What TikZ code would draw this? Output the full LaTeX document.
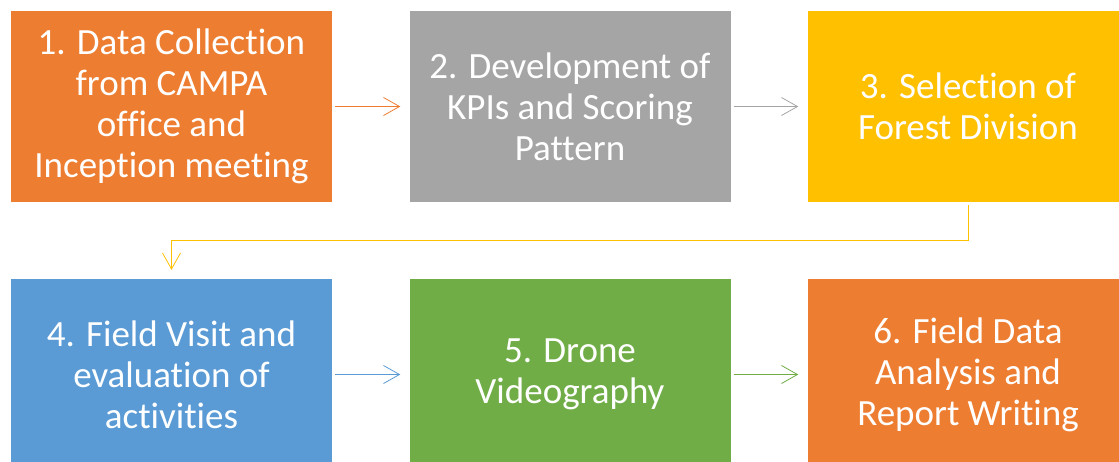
\documentclass[tikz,border=0pt]{standalone}
\usepackage{fontspec}
\setmainfont[Ligatures={NoCommon}]{Carlito}
\usetikzlibrary{arrows.meta}
\definecolor{cOrange}{HTML}{ED7D31}
\definecolor{cGray}{HTML}{A5A5A5}
\definecolor{cYellow}{HTML}{FFC000}
\definecolor{cBlue}{HTML}{5B9BD5}
\definecolor{cGreen}{HTML}{70AD47}
\tikzset{
  stepbox/.style={rectangle, inner sep=0pt, minimum width=321pt, minimum height=191pt,
    text=white, align=center, font=\fontsize{37}{41}\selectfont},
  link/.style={line width=0.8pt, -{Straight Barb[length=16pt,width=18pt,line width=0.8pt]}}
}
\begin{document}
\begin{tikzpicture}[x=1pt,y=-1pt]
\useasboundingbox (0,0) rectangle (1119,461);
\clip (0,0) rectangle (1119,461);
\node[stepbox, fill=cOrange] (b1) at (171.5,106.5) {1. Data Collection\\from CAMPA\\office and\\Inception meeting};
\node[stepbox, fill=cGray] (b2) at (570,106.5) {2. Development of\\KPIs and Scoring\\Pattern};
\node[stepbox, fill=cYellow] (b3) at (968,106.5) {3. Selection of\\Forest Division};
\node[stepbox, fill=cBlue] (b4) at (171.5,374.5) {4. Field Visit and\\evaluation of\\activities};
\node[stepbox, fill=cGreen] (b5) at (570,374.5) {5. Drone\\Videography};
\node[stepbox, fill=cOrange] (b6) at (968,374.5) {6. Field Data\\Analysis and\\Report Writing};
\coordinate (e1) at (968,240);
\coordinate (e2) at (171.5,240);
\draw[link, cOrange] ([xshift=3pt]b1.east) -- ([xshift=-9pt]b2.west);
\draw[link, cGray] ([xshift=3pt]b2.east) -- ([xshift=-9pt]b3.west);
\draw[link, cYellow] ([yshift=-3pt]b3.south) -- (e1) -- (e2) -- ([yshift=9pt]b4.north);
\draw[link, cBlue] ([xshift=3pt]b4.east) -- ([xshift=-9pt]b5.west);
\draw[link, cGreen] ([xshift=3pt]b5.east) -- ([xshift=-9pt]b6.west);
\end{tikzpicture}
\end{document}
